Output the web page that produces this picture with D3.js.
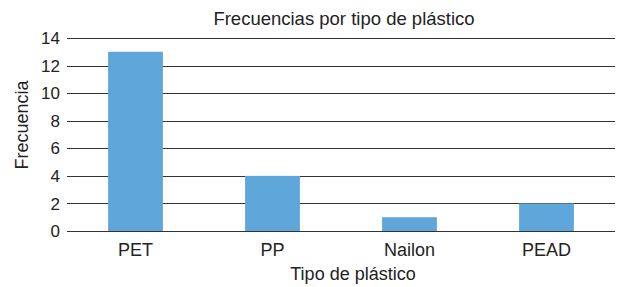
<!DOCTYPE html>
<html>
<head>
<meta charset="utf-8">
<script src="https://cdn.jsdelivr.net/npm/d3@7"></script>
<style>
  body { margin: 0; background: #fff; }
  text { font-family: "Liberation Sans", Arial, sans-serif; fill: #222; }
</style>
</head>
<body>
<svg id="chart" width="618" height="287"></svg>
<script>
// data
var categories = ["PET", "PP", "Nailon", "PEAD"];
var values = [13, 4, 1, 2];
var yTicks = [0, 2, 4, 6, 8, 10, 12, 14];

var svg = d3.select("#chart");
var plotLeft = 67, plotRight = 615, plotTop = 38, plotBottom = 231;

var x = d3.scaleBand()
    .domain(categories)
    .range([plotLeft, plotRight])
    .paddingInner(0.6)
    .paddingOuter(0.3);

var y = d3.scaleLinear()
    .domain([0, 14])
    .range([plotBottom, plotTop]);

// gridlines
svg.append("g")
    .selectAll("line")
    .data(yTicks)
    .join("line")
    .attr("x1", plotLeft)
    .attr("x2", plotRight)
    .attr("y1", function (d) { return Math.round(y(d)) + 0.5; })
    .attr("y2", function (d) { return Math.round(y(d)) + 0.5; })
    .attr("stroke", "#333")
    .attr("stroke-width", 1.2);

// bars
svg.append("g")
    .selectAll("rect")
    .data(values)
    .join("rect")
    .attr("x", function (d, i) { return x(categories[i]); })
    .attr("width", x.bandwidth())
    .attr("y", function (d) { return y(d); })
    .attr("height", function (d) { return y(0) - y(d); })
    .attr("fill", "#5fa6db");

// y tick labels
svg.append("g")
    .selectAll("text")
    .data(yTicks)
    .join("text")
    .attr("x", plotLeft - 7)
    .attr("y", function (d) { return y(d); })
    .attr("dy", "0.36em")
    .attr("text-anchor", "end")
    .attr("font-size", 17)
    .text(function (d) { return d; });

// x labels
svg.append("g")
    .selectAll("text")
    .data(categories)
    .join("text")
    .attr("x", function (d) { return x(d) + x.bandwidth() / 2; })
    .attr("y", 256)
    .attr("text-anchor", "middle")
    .attr("font-size", 18)
    .text(function (d) { return d; });

// titles
svg.append("text")
    .attr("x", (plotLeft + plotRight) / 2 + 3)
    .attr("y", 25)
    .attr("text-anchor", "middle")
    .attr("font-size", 18.5)
    .text("Frecuencias por tipo de plástico");

svg.append("text")
    .attr("x", (plotLeft + plotRight) / 2 + 12)
    .attr("y", 280)
    .attr("text-anchor", "middle")
    .attr("font-size", 18)
    .text("Tipo de plástico");

svg.append("text")
    .attr("transform", "translate(28,125) rotate(-90)")
    .attr("text-anchor", "middle")
    .attr("font-size", 18)
    .text("Frecuencia");
</script>
</body>
</html>
